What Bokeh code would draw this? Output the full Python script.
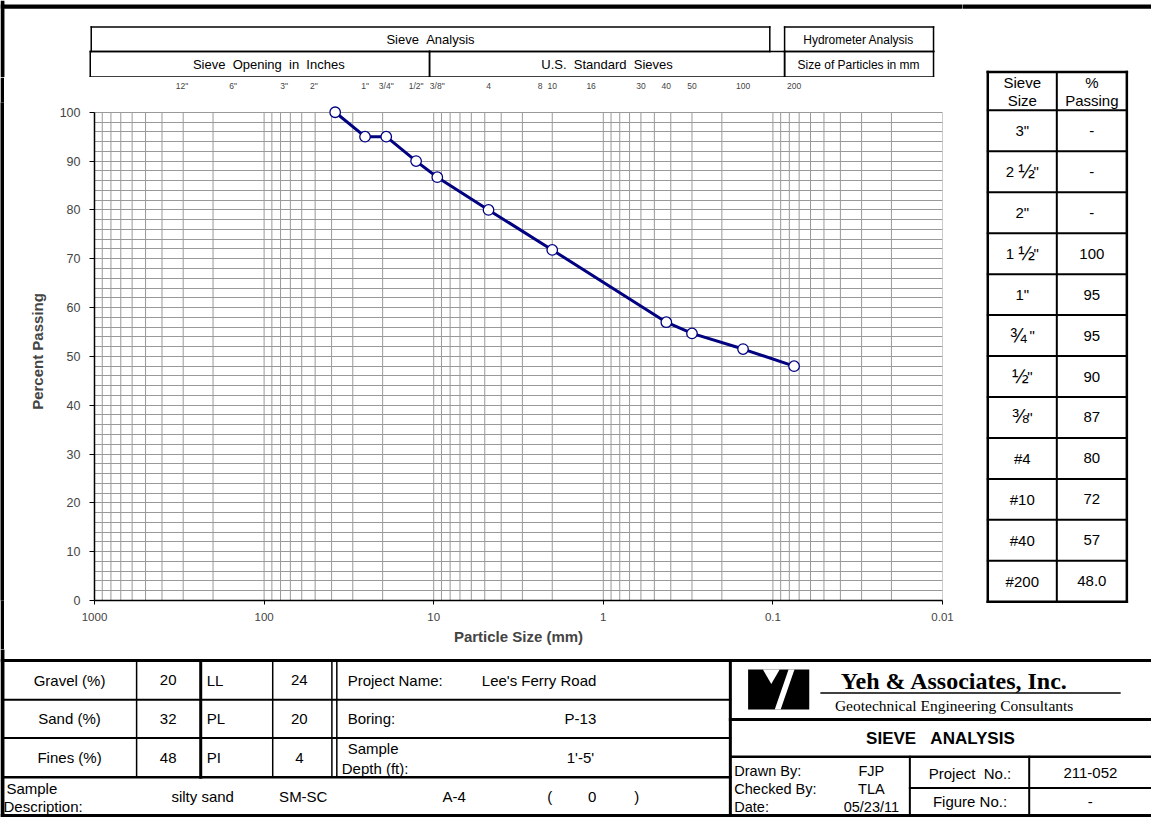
import numpy as np
from bokeh.plotting import figure
from bokeh.models import Range1d, FixedTicker, LogAxis, CustomJSTickFormatter
from bokeh.layouts import column, row
from bokeh.core.properties import value
from bokeh.embed import file_html
from bokeh.resources import INLINE

# ---------------- data ----------------
sieve_size_mm = [38.1, 25.4, 19.05, 12.7, 9.525, 4.75, 2.0, 0.425, 0.3, 0.15, 0.075]
percent_passing = [100, 95, 95, 90, 86.7, 80, 71.8, 57, 54.7, 51.5, 48]

top_sieve_labels = ['12"', '6"', '3"', '2"', '1"', '3/4"', '1/2"', '3/8"', '4', '8', '10', '16',
                    '30', '40', '50', '100', '200']
top_sieve_mm = [304.8, 152.4, 76.2, 50.8, 25.4, 19.05, 12.7, 9.525, 4.75, 2.36, 2.0, 1.18,
                0.6, 0.425, 0.3, 0.15, 0.075]

x_ticks = [1000, 100, 10, 1, 0.1, 0.01]
y_ticks = list(range(0, 101, 10))

table_sieves = ['3"', '2 \u00bd"', '2"', '1 \u00bd"', '1"', '\u00be "', '\u00bd"', '\u215c"',
                '#4', '#10', '#40', '#200']
table_passing = ['-', '-', '-', '100', '95', '95', '90', '87', '80', '72', '57', '48.0']

grad_labels = ['Gravel (%)', 'Sand (%)', 'Fines (%)']
grad_values = ['20', '32', '48']
limit_labels = ['LL', 'PL', 'PI']
limit_values = ['24', '20', '4']

project_name = "Lee's Ferry Road"
boring = "P-13"
sample_depth = "1'-5'"
description = "silty sand"
uscs = "SM-SC"
aashto = "A-4"
group_index = "0"
drawn_by, checked_by, date = "FJP", "TLA", "05/23/11"
project_no, figure_no = "211-052", "-"

SANS = "Liberation Sans"
SERIF = "Liberation Serif"
NAVY = "#000080"
GRID = "#999999"
NB = "\u00a0"
FRACS = "\u00bd\u00be\u215c"

# page is 1151x817; reference layout coordinates are 1167x833
SX = 1151 / 1167
SY = 817 / 833


def pix_fig(px0, px1, py0, py1):
    p = figure(width=px1 - px0, height=py1 - py0,
               x_range=Range1d(px0 / SX, px1 / SX), y_range=Range1d(py1 / SY, py0 / SY),
               output_backend="svg", toolbar_location=None, min_border=0,
               x_axis_location=None, y_axis_location=None)
    p.xgrid.visible = False
    p.ygrid.visible = False
    p.outline_line_color = None
    p.background_fill_color = "white"
    p.border_fill_color = "white"
    return p


def txt(p, x, y, s, size, align="center", bold=False, font=SANS):
    p.text(x=[x], y=[y], text=[s], text_align=align, text_baseline="middle",
           text_font=value(font), text_font_size=f"{size}px",
           text_font_style="bold" if bold else "normal", text_color="black")


def seg(p, x0, y0, x1, y1, w=1.5):
    p.segment(x0=[x0], y0=[y0], x1=[x1], y1=[y1], line_color="black",
              line_width=w, line_cap="square")


def box(p, x0, y0, x1, y1, w=1.5):
    seg(p, x0, y0, x1, y0, w)
    seg(p, x0, y1, x1, y1, w)
    seg(p, x0, y0, x0, y1, w)
    seg(p, x1, y0, x1, y1, w)


def blk(p, x0, x1, y0, y1):
    p.quad(left=[x0], right=[x1], top=[y0], bottom=[y1], fill_color="black", line_color=None)


CHAR_W = {'"': 0.355, ' ': 0.278}


def sieve_txt(p, xc, y, s, size=15, fsize=20):
    """Centered text where a fraction glyph is drawn larger, as in the reference."""
    idx = [i for i, c in enumerate(s) if c in FRACS]
    if not idx:
        txt(p, xc, y, s, size)
        return
    i = idx[0]
    pre, fr, suf = s[:i], s[i], s[i + 1:]
    wpre = sum(CHAR_W.get(c, 0.556) for c in pre) * size / SX
    wfr = 0.834 * fsize * 0.92 / SX
    wsuf = sum(CHAR_W.get(c, 0.556) for c in suf) * size / SX
    x = xc - (wpre + wfr + wsuf) / 2
    if pre:
        txt(p, x, y, pre.replace(" ", NB), size, align="left")
    txt(p, x + wpre, y - 1, fr, fsize, align="left")
    txt(p, x + wpre + wfr, y, suf.replace(" ", NB), size, align="left")


XA = 962   # px split between chart column and right table
YA = 77    # px bottom of header
YB = 649   # px bottom of chart row
W, H = 1151, 817

# ---------------- top header ----------------
top = pix_fig(0, XA, 0, YA)
blk(top, 0, 1200, 4, 8.5)
blk(top, 0, 4, 0, 100)
box(top, 92, 27, 780, 52)
box(top, 795, 27, 946, 52)
box(top, 91, 52, 435, 78)
box(top, 435, 52, 795, 78)
box(top, 795, 52, 946, 78)
txt(top, 436, 40, "Sieve " + NB + "Analysis", 13)
txt(top, 870, 40, "Hydrometer Analysis", 12)
txt(top, 272, 65.5, "Sieve " + NB + "Opening " + NB + "in " + NB + "Inches", 13)
txt(top, 615, 65.5, "U.S. " + NB + "Standard " + NB + "Sieves", 13)
txt(top, 870, 65.5, "Size of Particles in mm", 12)

# ---------------- left strip ----------------
strip = figure(width=4, height=YB - YA, output_backend="svg", toolbar_location=None,
               min_border=0, x_axis_location=None, y_axis_location=None)
strip.xgrid.visible = False
strip.ygrid.visible = False
strip.outline_line_color = None
strip.background_fill_color = "black"
strip.border_fill_color = "black"

# ---------------- chart ----------------
chart = figure(width=XA - 4, height=YB - YA, x_axis_type="log",
               x_range=Range1d(1000, 0.01), y_range=Range1d(0, 102),
               output_backend="svg", toolbar_location=None,
               min_border_left=90, min_border_right=20, min_border_top=24, min_border_bottom=49)
chart.outline_line_color = None
chart.background_fill_color = "white"
chart.border_fill_color = "white"
chart.xgrid.visible = False
chart.ygrid.ticker = FixedTicker(ticks=list(range(0, 101, 2)))
chart.ygrid.grid_line_color = GRID
chart.ygrid.grid_line_width = 1

grid_x = [k * 10.0 ** d for d in range(-2, 3) for k in range(1, 10)] + [1000.0]
chart.segment(x0=grid_x, y0=[0] * len(grid_x), x1=grid_x, y1=[100] * len(grid_x),
              line_color=GRID, line_width=1)

chart.line(sieve_size_mm, percent_passing, line_color=NAVY, line_width=3)
chart.scatter(sieve_size_mm, percent_passing, marker="circle", size=10.5,
              fill_color="white", line_color=NAVY, line_width=1.3)

xb = chart.below[0]
xb.ticker = FixedTicker(ticks=x_ticks)
xb.formatter = CustomJSTickFormatter(code="return String(tick);")
xb.minor_tick_line_color = None
xb.major_tick_out = 4
xb.major_tick_in = 0
xb.major_label_standoff = 8
xb.axis_line_width = 1.5
xb.major_label_text_font = SANS
xb.major_label_text_font_size = "11.5px"
xb.axis_label = "Particle Size (mm)"
xb.axis_label_text_font = SANS
xb.axis_label_text_font_style = "bold"
xb.axis_label_text_font_size = "15px"
xb.axis_label_standoff = 4

yl = chart.left[0]
yl.ticker = FixedTicker(ticks=y_ticks)
yl.bounds = (0, 100)
yl.minor_tick_line_color = None
yl.major_tick_out = 5
yl.major_tick_in = 0
yl.major_label_standoff = 9
yl.axis_line_width = 1.5
yl.major_label_text_font = SANS
yl.major_label_text_font_size = "12.5px"
yl.axis_label = "Percent Passing"
yl.axis_label_text_font = SANS
yl.axis_label_text_font_style = "bold"
yl.axis_label_text_font_size = "15px"
yl.axis_label_standoff = 11

top_axis = LogAxis(
    ticker=FixedTicker(ticks=top_sieve_mm),
    formatter=CustomJSTickFormatter(
        args=dict(keys=[f"{m:.3f}" for m in top_sieve_mm], labs=top_sieve_labels),
        code="const i = keys.indexOf(tick.toFixed(3)); return i >= 0 ? labs[i] : '';"),
    axis_line_color=None, major_tick_line_color=None, minor_tick_line_color=None,
    major_label_standoff=6, major_label_text_font=SANS, major_label_text_font_size="8.5px")
chart.add_layout(top_axis, "above")

# ---------------- right table ----------------
right = pix_fig(XA, W, 0, YB)
blk(right, 900, 1200, 4, 8.5)
tx0, tx1, tmid = 1001, 1142, 1071
row_edges = [73, 112] + [112 + 41.75 * (i + 1) for i in range(12)]
for yv in row_edges[1:-1]:
    seg(right, tx0, yv, tx1, yv, 2)
seg(right, tmid, 73, tmid, 613, 2)
box(right, tx0, 73, tx1, 613, 2.5)
txt(right, 1036, 84, "Sieve", 15)
txt(right, 1036, 102, "Size", 15)
txt(right, 1106.5, 84, "%", 15)
txt(right, 1106.5, 102, "Passing", 15)
for i, (s, v) in enumerate(zip(table_sieves, table_passing)):
    yc = (row_edges[i + 1] + row_edges[i + 2]) / 2
    sieve_txt(right, 1036, yc, s)
    txt(right, 1106.5, yc, v, 15)

# ---------------- bottom block ----------------
bot = pix_fig(0, W, YB, H)
blk(bot, 0, 4, 600, 840)
blk(bot, 0, 1200, 671.5, 674.5)
blk(bot, 0, 1200, 829.5, 834)
for xv, w in [(138, 1.5), (203, 3), (276, 1.5), (336, 1.5), (341, 1.5)]:
    seg(bot, xv, 673, xv, 792, w)
seg(bot, 2, 713, 740, 713, 2)
seg(bot, 2, 752, 740, 752, 2)
seg(bot, 2, 792, 740, 792, 2.5)
row_c = [693, 732.5, 772]
for i in range(3):
    txt(bot, 70, row_c[i], grad_labels[i], 15)
    txt(bot, 170, row_c[i], grad_values[i], 15)
    txt(bot, 209, row_c[i], limit_labels[i], 15, align="left")
    txt(bot, 303, row_c[i], limit_values[i], 15)
txt(bot, 352, 693, "Project Name:", 15, align="left")
txt(bot, 488, 693, project_name, 15, align="left")
txt(bot, 352, 732.5, "Boring:", 15, align="left")
txt(bot, 588, 732.5, boring, 15)
txt(bot, 352, 763, "Sample", 15, align="left")
txt(bot, 346, 783, "Depth (ft):", 15, align="left")
txt(bot, 588, 772, sample_depth, 15)
txt(bot, 6, 803, "Sample", 15, align="left")
txt(bot, 3, 822, "Description:", 15, align="left")
txt(bot, 205, 812, description, 15)
txt(bot, 307, 812, uscs, 15)
txt(bot, 460, 812, aashto, 15)
txt(bot, 557, 812, "(", 15)
txt(bot, 600, 812, group_index, 15)
txt(bot, 645, 812, ")", 15)
seg(bot, 740, 673, 740, 831, 3)
seg(bot, 740, 733, 1167, 733, 3)
seg(bot, 740, 771, 1167, 771, 2.5)
seg(bot, 922, 771, 922, 831, 2)
seg(bot, 1043, 771, 1043, 831, 2)
seg(bot, 922, 803, 1167, 803, 2)
bot.quad(left=[758], right=[820], top=[682], bottom=[723], fill_color="black", line_color=None)
bot.patches(xs=[[773, 790, 781.5], [799, 805, 791, 785]],
            ys=[[682, 682, 697], [682, 682, 723, 723]],
            fill_color="white", line_color=None)
txt(bot, 852, 694, "Yeh & Associates, Inc.", 24, align="left", bold=True, font=SERIF)
seg(bot, 832, 706, 1135, 706, 1.5)
txt(bot, 846, 719, "Geotechnical Engineering Consultants", 15.5, align="left", font=SERIF)
txt(bot, 953, 752.5, "SIEVE " + NB + NB + "ANALYSIS", 17, bold=True)
txt(bot, 744, 786, "Drawn By:", 14.5, align="left")
txt(bot, 744, 804, "Checked By:", 14.5, align="left")
txt(bot, 744, 822, "Date:", 14.5, align="left")
txt(bot, 883, 786, drawn_by, 14.5)
txt(bot, 883, 804, checked_by, 14.5)
txt(bot, 883, 822, date, 14.5)
txt(bot, 983, 788, "Project " + NB + "No.:", 15)
txt(bot, 1105, 788, project_no, 15)
txt(bot, 983, 817, "Figure No.:", 15)
txt(bot, 1105, 817, figure_no, 15)

layout = column(row(column(top, row(strip, chart)), right), bot)

open("out.html", "w").write(file_html(layout, INLINE))
